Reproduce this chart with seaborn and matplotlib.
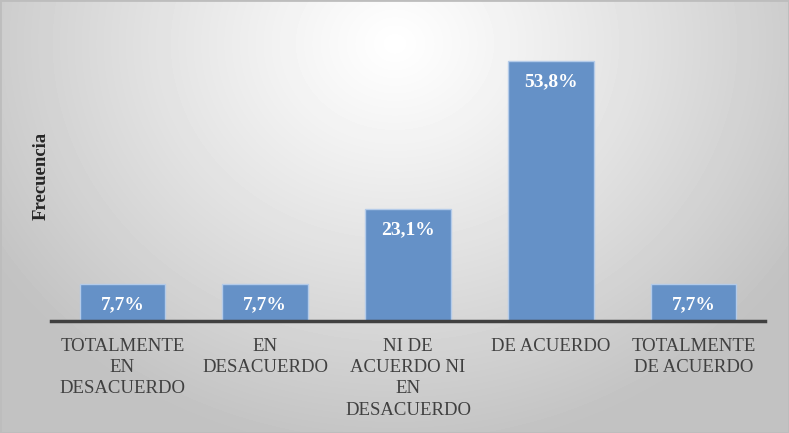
import numpy as np
import pandas as pd
import matplotlib
matplotlib.use("Agg")
import matplotlib.pyplot as plt
import seaborn as sns

# datos del gráfico
categorias = ["TOTALMENTE\nEN\nDESACUERDO", "EN\nDESACUERDO",
              "NI DE\nACUERDO NI\nEN\nDESACUERDO", "DE ACUERDO",
              "TOTALMENTE\nDE ACUERDO"]
porcentajes = [7.7, 7.7, 23.1, 53.8, 7.7]
etiquetas = ["7,7%", "7,7%", "23,1%", "53,8%", "7,7%"]

df = pd.DataFrame({"categoria": categorias, "porcentaje": porcentajes})

sns.set_theme(style="white")
plt.rcParams["font.family"] = ["Liberation Serif", "DejaVu Serif"]

W, H = 789, 433
fig = plt.figure(figsize=(W / 100, H / 100), dpi=100)

# fondo con degradado radial
bg = fig.add_axes([0, 0, 1, 1], zorder=-10)
yy, xx = np.mgrid[0:H, 0:W]
d = np.sqrt(((xx - W * 0.5) / (W * 0.6)) ** 2 + ((yy - H * 0.1) / (H * 0.95)) ** 2)
d = np.clip(d, 0, 1)
gris = 1.0 - 0.24 * d ** 1.1
bg.imshow(gris, cmap="gray", vmin=0, vmax=1, aspect="auto", interpolation="bilinear")
bg.set_axis_off()
fig.patches.append(plt.Rectangle((0, 0), 1, 1, transform=fig.transFigure,
                                 fill=False, edgecolor="#bdbdbd", linewidth=2))

ax = fig.add_axes([51 / W, (H - 321) / H, (765 - 51) / W, 290 / H])
ax.patch.set_alpha(0)
sns.barplot(data=df, x="categoria", y="porcentaje", ax=ax, color="#6591c7",
            saturation=1, width=0.6, edgecolor="#b4cbe9", linewidth=1)

for i, (v, t) in enumerate(zip(porcentajes, etiquetas)):
    ax.annotate(t, (i, v), xytext=(0, -15), textcoords="offset points",
                ha="center", va="center", color="white", fontsize=14,
                fontweight="bold")

ax.set_ylim(0, 60)
ax.set_xlim(-0.5, 4.5)
ax.set_yticks([])
ax.set_xlabel("")
ax.set_ylabel("Frecuencia", fontsize=13.5, fontweight="bold", color="#262626", labelpad=1)
for s in ["left", "right", "top"]:
    ax.spines[s].set_visible(False)
ax.spines["bottom"].set_color("#404040")
ax.spines["bottom"].set_linewidth(2.5)
ax.tick_params(axis="x", length=0, pad=12, labelsize=13.5, labelcolor="#404040")
for lbl in ax.get_xticklabels():
    lbl.set_multialignment("center")
    lbl.set_linespacing(1.33)

fig.savefig("out.png", dpi=100)
